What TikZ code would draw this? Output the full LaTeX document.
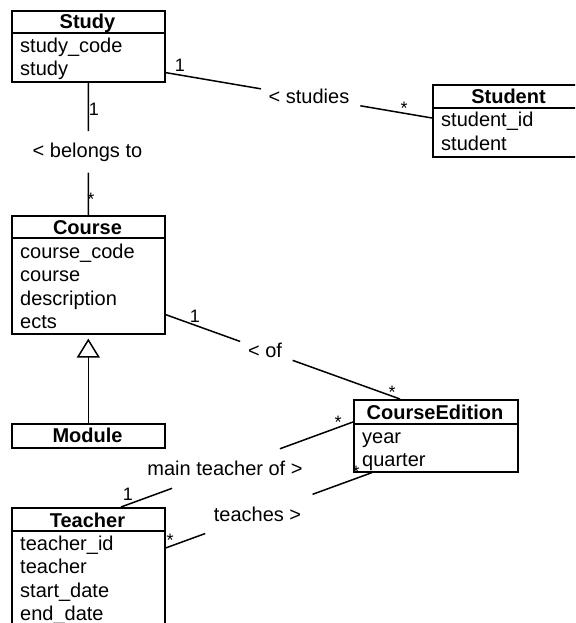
\documentclass[tikz,border=0pt]{standalone}
\usepackage{fontspec}
\setmainfont{Liberation Sans}
\usetikzlibrary{calc,arrows.meta}
\begin{document}
\begin{tikzpicture}[x=1pt,y=-1pt,
  cls/.style={draw, line width=1.6pt, anchor=north west, inner sep=0pt, minimum width=153pt},
  sepline/.style={line width=1.6pt},
  ttl/.style={anchor=base, inner sep=0pt, font=\fontsize{20}{24}\selectfont\bfseries},
  attr/.style={anchor=base west, inner sep=0pt, font=\fontsize{20}{24}\selectfont},
  lbl/.style={anchor=base, inner sep=0pt, font=\fontsize{20}{24}\selectfont},
  mult/.style={anchor=base, inner sep=0pt, font=\fontsize{18}{20}\selectfont},
  conn/.style={line width=1.5pt}]
\useasboundingbox (0,0) rectangle (575,623);
\clip (0,0) rectangle (575,623);

% ---- Study
\node[cls, minimum height=71pt] (study) at (11,10) {};
\draw[sepline] ([yshift=-23pt]study.north west) -- ([yshift=-23pt]study.north east);
\node[ttl] (studyT) at (87.5,29) {Study};
\node[attr] (studyA1) at (20,53) {study\_code};
\node[attr] (studyA2) at (20,76) {study};

% ---- Student
\node[cls, minimum height=72pt] (student) at (432,84) {};
\draw[sepline] ([yshift=-24pt]student.north west) -- ([yshift=-24pt]student.north east);
\node[ttl] (studentT) at (508.5,103) {Student};
\node[attr] (studentA1) at (441,127) {student\_id};
\node[attr] (studentA2) at (441,150) {student};

% ---- Course
\node[cls, minimum height=118pt] (course) at (11,215) {};
\draw[sepline] ([yshift=-23pt]course.north west) -- ([yshift=-23pt]course.north east);
\node[ttl] (courseT) at (87.5,234) {Course};
\node[attr] (courseA1) at (20,258) {course\_code};
\node[attr] (courseA2) at (20,281) {course};
\node[attr] (courseA3) at (20,305) {description};
\node[attr] (courseA4) at (20,328) {ects};

% ---- Module
\node[cls, minimum height=24pt] (module) at (11,423) {};
\node[ttl] (moduleT) at (87.5,442) {Module};

% ---- CourseEdition
\node[cls, minimum width=164pt, minimum height=72pt] (ce) at (353,399) {};
\draw[sepline] ([yshift=-25pt]ce.north west) -- ([yshift=-25pt]ce.north east);
\node[ttl] (ceT) at (435,419) {CourseEdition};
\node[attr] (ceA1) at (362,443) {year};
\node[attr] (ceA2) at (362,466) {quarter};

% ---- Teacher
\node[cls, minimum height=140pt] (teacher) at (11,507) {};
\draw[sepline] ([yshift=-24pt]teacher.north west) -- ([yshift=-24pt]teacher.north east);
\node[ttl] (teacherT) at (87.5,527) {Teacher};
\node[attr] (teacherA1) at (20,550) {teacher\_id};
\node[attr] (teacherA2) at (20,573) {teacher};
\node[attr] (teacherA3) at (20,597) {start\_date};
\node[attr] (teacherA4) at (20,620) {end\_date};

% ---- connector end points (on box borders)
\coordinate (e1a) at ($(study.south east)+(0,-10)$);
\coordinate (e1b) at ($(student.north west)+(0,34)$);
\coordinate (e2a) at (study.south);
\coordinate (e2b) at (course.north);
\coordinate (e3a) at ($(course.south east)+(0,-20)$);
\coordinate (e3b) at ($(ce.north west)+(47,0)$);
\coordinate (e4a) at ($(teacher.north west)+(110,0)$);
\coordinate (e4b) at ($(ce.north west)+(0,23)$);
\coordinate (e5a) at ($(teacher.north east)+(0,41)$);
\coordinate (e5b) at ($(ce.south west)+(19,0)$);

% Study -- Student
\draw[conn] (e1a) -- ($(e1a)!0.358!(e1b)$);
\draw[conn] ($(e1a)!0.731!(e1b)$) -- (e1b);
\node[lbl] (l1) at (309,104) {\textless{} studies};
\node[mult] (m1a) at (180,72) {1};
\node[mult] (m1b) at (404,114) {*};

% Study -- Course
\draw[conn] (e2a) -- ($(e2a)!0.366!(e2b)$);
\draw[conn] ($(e2a)!0.679!(e2b)$) -- (e2b);
\node[lbl] (l2) at (87.5,157) {\textless{} belongs to};
\node[mult] (m2a) at (94,115) {1};
\node[mult] (m2b) at (91,205) {*};

% Course -- CourseEdition
\draw[conn] (e3a) -- ($(e3a)!0.318!(e3b)$);
\draw[conn] ($(e3a)!0.542!(e3b)$) -- (e3b);
\node[lbl] (l3) at (265,357) {\textless{} of};
\node[mult] (m3a) at (195,322) {1};
\node[mult] (m3b) at (392,398) {*};

% Teacher -- CourseEdition (main teacher of)
\draw[conn] (e4a) -- ($(e4a)!0.22!(e4b)$);
\draw[conn] ($(e4a)!0.685!(e4b)$) -- (e4b);
\node[lbl] (l4) at (225,475) {main teacher of \textgreater};
\node[mult] (m4a) at (128,500) {1};
\node[mult] (m4b) at (338,428) {*};

% Teacher -- CourseEdition (teaches)
\draw[conn] (e5a) -- ($(e5a)!0.192!(e5b)$);
\draw[conn] ($(e5a)!0.712!(e5b)$) -- (e5b);
\node[lbl] (l5) at (257.5,521) {teaches \textgreater};
\node[mult] (m5a) at (170,546) {*};
\node[mult] (m5b) at (356,478) {*};

% Module -> Course generalization
\draw[conn, -{Triangle[open, length=19pt, width=23pt, line width=1.5pt]}, shorten >=4pt] (module.north) -- (course.south);
\end{tikzpicture}
\end{document}
